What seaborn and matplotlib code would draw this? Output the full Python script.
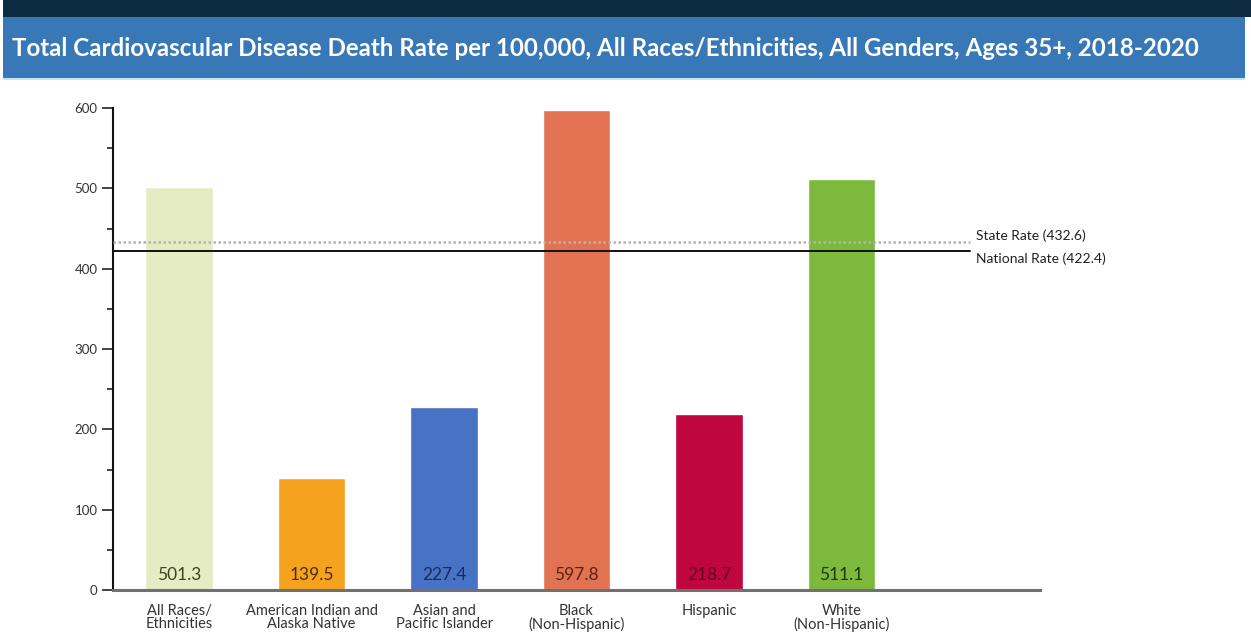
import matplotlib
matplotlib.use("Agg")
import matplotlib.pyplot as plt
import matplotlib.patches as mpatches
from matplotlib.ticker import MultipleLocator
import seaborn as sns
import pandas as pd

categories = ["All Races/\nEthnicities", "American Indian and\nAlaska Native",
              "Asian and\nPacific Islander", "Black\n(Non-Hispanic)",
              "Hispanic", "White\n(Non-Hispanic)"]
values = [501.3, 139.5, 227.4, 597.8, 218.7, 511.1]
bar_colors = ["#e5ecc4", "#f5a21e", "#4872c4", "#e27352", "#c0063e", "#7cb93c"]
label_colors = ["#3b4220", "#4a2e08", "#1b2b5e", "#5a2412", "#5e0320", "#1e3a0e"]
state_rate = 432.6
national_rate = 422.4
title = "Total Cardiovascular Disease Death Rate per 100,000, All Races/Ethnicities, All Genders, Ages 35+, 2018-2020"

sns.set_theme(style="white")
plt.rcParams['font.family'] = ['Lato', 'DejaVu Sans']

W, H = 1251, 640
fig = plt.figure(figsize=(W/100, H/100), dpi=100)
fig.patch.set_facecolor("white")

# header bars
fig.add_artist(mpatches.Rectangle((3/W, 1-17/H), (W-3)/W, 17/H, transform=fig.transFigure,
                                  facecolor="#0c2a40", edgecolor="none"))
fig.add_artist(mpatches.Rectangle((3/W, 1-78/H), (1245-3)/W, 61/H, transform=fig.transFigure,
                                  facecolor="#3878b6", edgecolor="none"))
fig.add_artist(mpatches.Rectangle((3/W, 1-80/H), (1245-3)/W, 2/H, transform=fig.transFigure,
                                  facecolor="#bfe6f4", edgecolor="none"))
fig.text(12/W, 1-48/H, title, color="white", fontsize=17.4, fontweight="bold",
         va="center", ha="left")

ax = fig.add_axes([113/W, 1-590/H, (1040-113)/W, (590-108)/H])
df = pd.DataFrame({"cat": categories, "val": values})
sns.barplot(data=df, x="cat", y="val", hue="cat", palette=bar_colors, legend=False,
            width=0.51, saturation=1, ax=ax)

ax.set_xlim(-0.5, 6.5)
ax.set_ylim(0, 600)
ax.set_xlabel("")
ax.set_ylabel("")
ax.yaxis.set_major_locator(MultipleLocator(100))
ax.yaxis.set_minor_locator(MultipleLocator(50))
ax.tick_params(axis="y", which="major", left=True, length=8, width=1.2, color="#222222",
               labelsize=9.5, labelcolor="#333333", pad=3)
ax.tick_params(axis="y", which="minor", left=True, length=4, width=1.2, color="#222222")
ax.tick_params(axis="x", bottom=False, labelsize=10.5, labelcolor="#333333", pad=4)
for lab in ax.get_xticklabels():
    lab.set_linespacing(0.9)

for s in ["top", "right"]:
    ax.spines[s].set_visible(False)
ax.spines["left"].set_color("#111111")
ax.spines["left"].set_linewidth(1.5)
ax.spines["bottom"].set_color("#707070")
ax.spines["bottom"].set_linewidth(2.2)

for i, (v, c) in enumerate(zip(values, label_colors)):
    ax.text(i, 19, f"{v:.1f}", ha="center", va="center", fontsize=12.5, color=c)

ax.plot([-0.5, 5.97], [state_rate, state_rate], color="#b4b4b4", lw=1.8, ls=(0, (1, 1)),
        zorder=3)
ax.plot([-0.5, 5.97], [national_rate, national_rate], color="#111111", lw=1.4, zorder=3)
ax.text(6.02, state_rate + 1, f"State Rate ({state_rate})", fontsize=10, color="#222222",
        va="bottom", ha="left")
ax.text(6.02, national_rate - 2, f"National Rate ({national_rate})", fontsize=10,
        color="#222222", va="top", ha="left")

fig.savefig("out.png", dpi=100)
